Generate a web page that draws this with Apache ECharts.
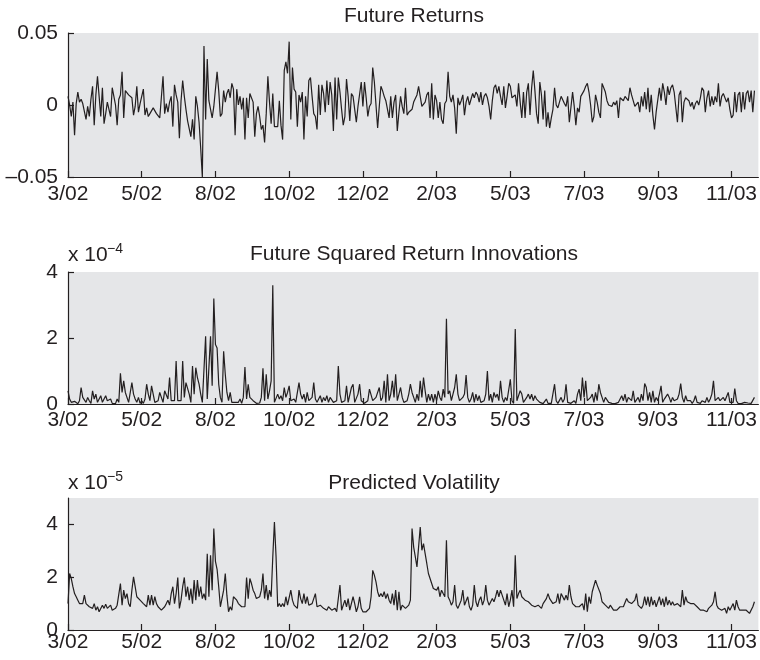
<!DOCTYPE html>
<html><head><meta charset="utf-8">
<script src="https://cdn.jsdelivr.net/npm/echarts@6/dist/echarts.min.js"></script>
<style>html,body{margin:0;padding:0;background:#fff}#c{width:760px;height:660px}</style>
</head><body><div id="c"></div>
<script>
// ---- tick labels (one every 45 trading days) ----
const xTickLabels = ['3/02','5/02','8/02','10/02','12/02','2/03','5/03','7/03','9/03','11/03'];
const PER_TICK = 45;

// ---- Future returns, one list per tick interval ----
const futureReturns = [
 [0.006,0,-0.008,0.002,-0.021,0.001,0.009,0.002,0.004,0.001,0.002,-0.010,-0.001,-0.008,0.004,0.013,-0.014,0.007,0.020,0.006,-0.008,0.012,-0.013,-0.006,0.002,0.001,-0.008,0.012,0.006,0,-0.014,0.004,0.007,0.023,-0.009,0.010,0.009,0.007,0.006,0.005,-0.007,-0.001,0.013,-0.005,0.001],
 [0.001,0.011,-0.007,-0.002,-0.008,-0.006,-0.005,-0.002,-0.003,-0.006,-0.005,-0.009,-0.010,0.020,-0.006,0.001,-0.005,0.002,0.006,-0.015,0.014,0.007,0.002,-0.023,0.003,0.017,0.006,-0.003,-0.011,-0.010,-0.022,-0.010,-0.024,0.006,-0.001,-0.012,-0.030,-0.050,0.041,-0.010,0.032,0.003,0.003,-0.009,-0.001],
 [-0.001,0.023,0.010,-0.008,-0.006,0.010,0.002,0.008,0.011,0.005,0.015,0.011,-0.021,0.011,0,0.006,-0.003,0.005,-0.024,0.005,-0.009,0.008,0.007,0.002,-0.022,-0.006,-0.001,-0.008,-0.017,-0.014,-0.026,-0.006,0.020,0.002,-0.013,0.008,-0.015,-0.016,-0.015,0.003,-0.014,-0.024,0.024,0.030,0.022],
 [0.044,-0.010,0.026,0.011,0.009,-0.015,0.007,0.002,0.009,-0.024,0.006,-0.008,0.017,0.019,0.006,-0.006,-0.008,-0.017,0.014,-0.007,0.014,0.008,-0.005,0.017,0,0.016,0.007,-0.018,0.019,-0.010,0.019,0.009,-0.003,-0.014,-0.008,0.018,0.006,-0.011,0.008,0.006,-0.003,-0.012,-0.001,0,0.016],
 [-0.001,0.016,0.005,-0.008,-0.001,0.001,0.026,0.016,0.015,-0.016,-0.001,0.013,0.010,0.006,0.003,0.002,-0.009,0.006,-0.009,0.002,0.007,-0.018,-0.005,0.006,-0.001,-0.006,0.012,-0.007,-0.005,-0.006,-0.003,0.002,0.002,0.007,0.013,0.006,-0.001,-0.002,0.002,0.007,0.009,-0.009,0.015,-0.010,0.007],
 [0.003,-0.009,0.002,-0.010,-0.013,0.001,0.003,0.023,0.006,0.002,0.007,-0.002,-0.020,0.005,0,0.003,0.007,-0.007,0.002,0.006,0,0,0.008,0.005,0.009,0.007,0.002,0.009,0,0.006,0.008,0.005,-0.001,-0.010,0.003,0.012,0.014,0.008,0.013,0.006,0,0.013,-0.002,0.006,0.015],
 [0.013,0.005,0.006,0.007,-0.001,0.015,0.002,-0.009,0.009,-0.009,0.009,0.015,-0.007,0.012,0.024,0.010,-0.006,-0.013,0.016,0.007,-0.010,0.010,-0.015,-0.005,-0.016,-0.009,-0.003,0.012,0,-0.002,0.002,0.006,0.007,0.001,-0.001,0.006,-0.012,-0.013,0.009,-0.001,-0.014,-0.002,-0.005,0.006,0.007],
 [0.010,0.013,0.015,0.009,0,-0.012,-0.008,0.007,0.002,-0.005,-0.009,0.015,0.016,0.009,0.003,0,0.001,-0.001,0.002,0,0.003,-0.009,0.005,0.006,0.003,0.006,0.005,0.003,0.012,0.007,0.003,-0.001,-0.002,0.002,-0.005,0.006,-0.001,0.009,-0.003,0.012,-0.005,0.007,-0.007,-0.017,-0.005],
 [-0.004,0.012,0.003,0.015,0.009,0,0.013,0.007,0.012,0.014,0.009,0.008,-0.012,0.007,0.010,-0.012,0.002,0.005,0.005,0.003,-0.001,0.002,-0.003,0.001,0.003,0,0.005,0.012,0.010,-0.005,0.005,0.010,-0.001,0.006,0,0.006,0.002,0.015,-0.001,0.006,0.008,0.007,0.002,0.005,-0.003],
 [-0.009,-0.007,0.009,-0.005,0.007,0.009,-0.005,0.009,-0.003,0.008,0.010,0.002,0.010,-0.005,0.010]
];

// ---- Future squared return innovations (x 10^-4) ----
const squaredInnovations = [
 [0.4,0.15,0.05,0.02,0.08,0.03,0.01,0.1,0.5,0.2,0.15,0.05,0.2,0.1,0.02,0.4,0.15,0.3,0.05,0.1,0.25,0.05,0.02,0.25,0.1,0.05,0.15,0.02,0.05,0.01,0.15,0.05,0.93,0.35,0.7,0.35,0.4,0.05,0.02,0.65,0.3,0.15,0.05,0.2,0.02],
 [0.1,0.02,0.15,0.6,0.3,0.1,0.55,0.3,0.05,0.02,0.1,0.35,0.2,0.05,0.4,0.35,0.15,0.8,0.1,0.05,0.1,1.3,0.1,0.05,0.1,1.3,0.2,0.65,0.6,0.3,0.05,1.15,0.3,1.1,0.8,0.6,0.3,0.05,0.1,2.05,0.15,0.1,2.05,0.55,3.2],
 [1.8,1.7,0.6,0.2,0.05,1.6,0.9,0.35,0.1,0.35,0.05,0.02,0.05,0.1,0.05,0.15,0.02,0.2,1.12,0.15,0.6,0.2,0.15,0.1,0.05,0.02,0.05,0.03,0.2,1.08,0.1,0.9,0.15,0.4,0.7,3.6,0.05,0.02,0.3,0.15,0.25,0.1,0.5,0.2,0.35],
 [0.55,0.1,0.05,0.15,0.05,0.1,0.65,0.3,0.15,0.3,0.05,0.35,0.1,0.05,0.2,0.65,0.15,0.05,0.1,0.25,0.05,0.2,0.1,0.25,0.05,0.2,0.15,0.05,0.02,0.1,1.15,0.3,0.05,0.02,0.1,0.55,0.05,0.1,0.5,0.6,0.05,0.02,0.3,0.6,0.1],
 [0.05,0.02,0.05,0.1,0.45,0.4,0.1,0.05,0.2,0.15,0.5,0.1,0.2,0.7,0.05,0.9,0.1,0.3,0.7,0.2,0.9,0.1,0.3,0.5,0.2,0.05,0.02,0.1,0.3,0.6,0.35,0.2,0.05,0.3,0.1,0.7,0.2,0.8,0.4,0.05,0.3,0.1,0.3,0.05,0.3],
 [0.1,0.4,0.2,0.1,0.45,0.2,2.58,0.3,0.4,0.1,0.05,0.5,0.9,0.3,0.1,0.05,0.2,0.3,0.88,0.2,0.05,0.15,0.35,0.05,0.3,0.1,0.25,0.05,0.02,0.1,0.3,1.0,0.1,0.3,0.05,0.35,0.2,0.3,0.1,0.7,0.2,0.05,0.2,0.1,0.05],
 [0.75,0.1,0.02,2.27,0.1,0.05,0.4,0.3,0.05,0.1,0.2,0.3,0.15,0.3,0.1,0.25,0.15,0.1,0.05,0.02,0.01,0.03,0.15,0.02,0.01,0.02,0.05,0.6,0.1,0.02,0.05,0.2,0.05,0.15,0.6,0.05,0.1,0.02,0.05,0.1,0.02,0.3,0.45,0.1,0.8],
 [0.2,0.7,0.1,0.05,0.2,0.3,0.05,0.35,0.1,0.6,0.35,0.2,0.05,0.2,0.15,0.05,0.1,0.02,0.05,0.01,0.02,0.05,0.02,0.25,0.1,0.3,0.05,0.2,0.25,0.1,0.4,0.05,0.1,0.2,0.05,0.3,0.1,0.62,0.5,0.1,0.35,0.05,0.4,0.05,0.2],
 [0.1,0.3,0.55,0.05,0.15,0.1,0.3,0.2,0.05,0.2,0.1,0.05,0.15,0.3,0.62,0.2,0.05,0.25,0.1,0.05,0.1,0.02,0.1,0.25,0.05,0.1,0.02,0.1,0.15,0.05,0.2,0.05,0.15,0.3,0.7,0.1,0.05,0.2,0.1,0.05,0.2,0.1,0.05,0.35,0.05],
 [0.1,0.05,0.47,0.1,0.02,0.05,0.01,0.02,0.05,0.1,0.03,0.08,0.02,0.05,0.2]
];

// ---- Predicted volatility (x 10^-5) ----
const predictedVolatility = [
 [1.0,2.14,1.95,1.64,1.38,1.26,1.13,1.0,0.94,1.0,1.32,1.0,0.94,0.88,0.91,0.82,1.0,0.75,0.88,0.69,0.75,0.94,0.82,0.98,0.82,0.88,0.94,0.75,0.69,0.82,0.94,1.0,1.76,0.94,1.51,1.19,1.38,1.0,0.88,1.51,2.01,1.64,1.26,1.19,1.13],
 [1.1,1.0,1.07,0.88,1.32,0.94,1.32,0.94,1.26,1.0,0.88,0.94,0.75,0.82,0.88,1.0,1.13,0.94,1.38,1.64,1.0,1.38,1.99,0.82,1.13,1.64,1.99,1.26,1.64,1.13,1.57,1.0,1.89,1.13,1.89,1.26,1.64,1.19,1.38,1.13,2.89,1.26,2.83,1.51,3.84],
 [2.6,2.3,1.64,0.88,0.94,1.51,2.14,1.3,0.69,0.88,0.75,1.26,1.19,1.13,1.0,0.94,0.88,0.82,0.88,1.99,1.19,1.95,1.76,1.51,1.38,1.19,1.13,1.26,1.51,2.14,1.19,1.70,1.13,1.51,1.26,2.77,4.09,2.77,0.88,1.0,0.88,1.0,0.88,1.26,0.94],
 [1.0,1.51,1.13,0.94,0.88,0.82,1.51,1.19,1.0,1.38,1.0,1.26,0.94,0.88,1.0,0.94,1.38,0.88,0.82,0.94,1.0,0.82,0.88,0.75,0.88,0.82,0.75,0.69,0.82,0.69,0.63,1.7,0.75,0.69,1.13,0.88,1.19,0.75,0.82,1.26,1.0,0.69,0.88,1.26,0.82],
 [0.69,0.63,0.69,0.75,0.82,1.26,2.26,2.08,1.82,1.45,1.26,1.38,1.26,1.45,1.19,1.38,1.13,1.0,1.38,0.94,1.51,0.75,1.45,0.75,0.94,0.88,0.82,0.88,0.94,1.13,3.84,3.14,2.77,2.39,2.45,3.9,3.02,3.27,2.89,2.52,2.14,1.95,1.89,1.57,1.64],
 [1.51,1.64,1.26,1.51,1.38,1.26,3.4,1.26,1.13,0.94,1.07,1.70,0.94,0.82,0.75,1.13,1.51,0.94,1.0,1.26,0.88,0.75,0.94,1.70,1.07,0.88,1.13,1.26,0.94,1.13,1.70,1.13,0.94,0.88,1.19,1.07,1.26,1.51,1.26,1.51,1.32,1.13,0.94,1.38,0.88],
 [1.13,1.51,0.88,2.83,1.19,1.38,1.51,1.26,1.19,1.13,1.13,1.07,1.0,0.94,1.0,0.88,0.82,0.94,0.88,0.82,1.0,0.94,1.19,1.38,1.19,1.13,1.0,0.94,1.07,1.38,1.0,1.38,1.26,1.13,1.32,1.13,1.70,1.26,1.0,0.94,0.88,0.85,0.88,0.94,1.0],
 [0.75,1.38,0.69,1.26,1.0,1.45,1.38,1.89,1.70,1.76,1.38,1.07,1.0,0.94,0.88,0.82,0.94,0.88,0.75,0.69,0.75,0.82,0.88,0.94,0.88,0.94,1.19,1.07,1.13,1.0,1.07,1.13,1.38,0.94,0.88,0.82,0.94,1.26,0.94,1.26,0.88,1.26,0.94,1.13,0.88],
 [1.07,1.26,0.94,1.19,0.88,1.26,0.94,1.13,0.94,1.07,0.94,0.88,1.0,0.94,0.88,1.51,0.94,1.26,1.07,1.07,1.0,0.94,1.0,0.94,0.88,0.94,0.75,0.69,0.75,0.82,0.69,0.82,0.75,0.94,1.07,1.45,0.94,0.82,0.75,0.75,0.69,0.82,0.63,0.88,0.75],
 [0.82,1.0,0.75,1.13,0.88,0.75,0.69,0.75,0.69,0.75,0.69,0.63,0.69,0.88,1.07]
];

// ---- build [x, y] pairs (x = trading-day position along the tick scale) ----
function toPairs(segs) {
  const out = [];
  segs.forEach((seg, s) => {
    const step = s < segs.length - 1 ? PER_TICK / seg.length : 1;
    seg.forEach((v, j) => out.push([s * PER_TICK + j * step, v]));
  });
  return out;
}

const INK = '#231f20';
const FONT = 'Liberation Sans, Arial, sans-serif';
const FS = 21;
const XMAX = 421.4;

function xAxis(gi, margin) {
  return {
    type: 'value', gridIndex: gi, min: 0, max: XMAX, interval: PER_TICK,
    axisLine: { show: true, onZero: false, lineStyle: { color: INK, width: 1.2 } },
    axisTick: { show: true, inside: true, length: 6, lineStyle: { color: INK, width: 1.2 } },
    splitLine: { show: false },
    axisLabel: {
      show: true, margin: margin, color: INK, fontSize: FS, fontFamily: FONT,
      showMaxLabel: false,
      formatter: v => {
        const k = Math.round(v / PER_TICK);
        return (Math.abs(v - k * PER_TICK) < 1e-6 && k < xTickLabels.length) ? xTickLabels[k] : '';
      }
    }
  };
}
function yAxis(gi, min, max, interval, fmt, custom) {
  const a = {
    type: 'value', gridIndex: gi, min: min, max: max, interval: interval,
    axisLine: { show: true, onZero: false, lineStyle: { color: INK, width: 1.2 } },
    axisTick: { show: true, inside: true, length: 6, lineStyle: { color: INK, width: 1.2 } },
    splitLine: { show: false },
    axisLabel: { show: true, margin: 10, color: INK, fontSize: FS, fontFamily: FONT, formatter: fmt }
  };
  if (custom) { a.axisTick.customValues = custom; a.axisLabel.customValues = custom; }
  return a;
}

const GRAY = '#e5e6e8';
const grids = [
  { left: 68, right: 0, top: 33, height: 144 },
  { left: 68, right: 0, top: 272, height: 132 },
  { left: 68, right: 0, top: 498, height: 132 }
].map(g => Object.assign({ show: true, backgroundColor: GRAY, borderWidth: 0, containLabel: false }, g));

function txt(text, x, y, size, align) {
  return {
    type: 'text', silent: true,
    style: { text: text, x: x, y: y, fill: INK, font: size + 'px ' + FONT,
      fontSize: size, fontFamily: FONT,
      textAlign: align, align: align, textVerticalAlign: 'middle', verticalAlign: 'middle' }
  };
}

const option = {
  animation: false,
  backgroundColor: '#ffffff',
  grid: grids,
  xAxis: [xAxis(0, 7), xAxis(1, 6), xAxis(2, 2)],
  yAxis: [
    yAxis(0, -0.05, 0.05, 0.05, v => Math.abs(v) < 1e-9 ? '0' : (v > 0 ? '0.05' : '\u20130.05')),
    yAxis(1, 0, 4, 2, v => String(Math.round(v))),
    yAxis(2, 0, 5, 2, v => v > 4.5 ? '' : String(Math.round(v)), [0, 2, 4])
  ],
  series: [
    { type: 'line', xAxisIndex: 0, yAxisIndex: 0, data: toPairs(futureReturns), symbol: 'none',
      lineStyle: { color: INK, width: 1.2 }, silent: true },
    { type: 'line', xAxisIndex: 1, yAxisIndex: 1, data: toPairs(squaredInnovations), symbol: 'none',
      lineStyle: { color: INK, width: 1.2 }, silent: true },
    { type: 'line', xAxisIndex: 2, yAxisIndex: 2, data: toPairs(predictedVolatility), symbol: 'none',
      lineStyle: { color: INK, width: 1.2 }, silent: true }
  ],
  graphic: [
    txt('Future Returns', 414, 16, 21, 'center'),
    txt('Future Squared Return Innovations', 414, 254.5, 21, 'center'),
    txt('x 10', 68, 255, 21, 'left'),
    txt('\u22124', 107, 249, 14, 'left'),
    txt('Predicted Volatility', 414, 483, 21, 'center'),
    txt('x 10', 68, 483.5, 21, 'left'),
    txt('\u22125', 107, 477, 14, 'left')
  ]
};

const chart = echarts.init(document.getElementById('c'), null, { renderer: 'canvas', width: 760, height: 660 });
chart.setOption(option);
</script></body></html>
